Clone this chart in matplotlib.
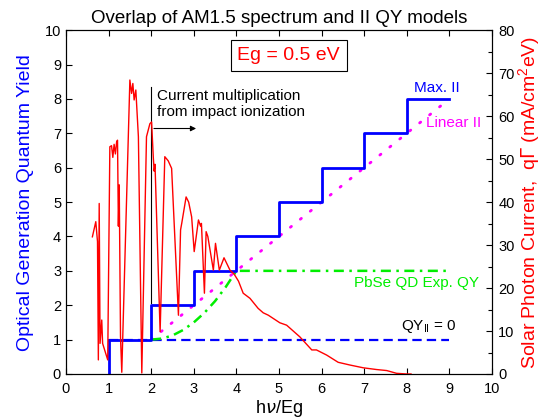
import numpy as np
import matplotlib
matplotlib.use("Agg")
import matplotlib.pyplot as plt

plt.rcParams["font.family"] = ["Liberation Sans", "DejaVu Sans"]

# -------------------------
# Data
# -------------------------

# AM1.5 solar photon current (mA/cm^2 eV) vs hv/Eg, Eg = 0.5 eV
spec_x = [0.62, 0.70, 0.74, 0.76, 0.78, 0.80, 0.84, 0.86, 0.98, 1.03,
          1.07, 1.10, 1.13, 1.16, 1.19, 1.21, 1.23, 1.25, 1.28, 1.31,
          1.50, 1.54, 1.57, 1.60, 1.64, 1.70, 1.78, 1.89, 1.97, 2.01,
          2.05, 2.07, 2.09, 2.21, 2.32, 2.40, 2.48, 2.64, 2.69, 2.72,
          2.82, 2.88, 2.95, 3.01, 3.11, 3.16, 3.18, 3.25, 3.29, 3.33,
          3.46, 3.51, 3.60, 3.71, 3.85, 3.95, 4.05, 4.16, 4.32, 4.51,
          4.63, 4.75, 5.02, 5.18, 5.49, 5.77, 5.88, 6.12, 6.39, 6.67,
          6.98, 7.29, 7.53, 7.76, 8.00, 8.10]
spec_qy_units = [3.99, 4.43, 3.85, 0.41, 4.96, 0.89, 1.57, 0.89, 0.41, 6.61,
                 6.64, 6.30, 6.68, 6.40, 6.76, 6.80, 4.30, 5.50, 1.10, 0.05,
                 8.55, 8.16, 8.45, 7.97, 8.26, 6.90, 0.03, 6.90, 7.28, 7.33,
                 6.30, 5.90, 6.10, 1.23, 6.32, 6.20, 5.98, 1.71, 4.19, 4.40,
                 5.15, 5.00, 4.57, 3.56, 4.48, 4.30, 4.38, 2.35, 4.14, 4.00,
                 3.02, 3.80, 3.02, 3.38, 3.02, 2.90, 2.70, 2.35, 2.20, 1.91,
                 1.78, 1.71, 1.49, 1.42, 1.08, 0.70, 0.70, 0.55, 0.34, 0.26,
                 0.18, 0.13, 0.10, 0.02, 0.00, 0.00]
spec_current = [v * 8 for v in spec_qy_units]

# QY models
max_x = [1, 2, 3, 4, 5, 6, 7, 8, 9]
max_qy = [1, 2, 3, 4, 5, 6, 7, 8, 8]

lin_x = [2, 9]
lin_qy = [1, 8]

pbse_x = [2.0, 2.25, 2.5, 2.75, 3.0, 3.25, 3.5, 3.75, 4.0, 9.0]
pbse_qy = [1.0, 1.03, 1.12, 1.28, 1.5, 1.78, 2.12, 2.53, 3.0, 3.0]

noii_x = [1, 9]
noii_qy = [1, 1]

# -------------------------
# Plot
# -------------------------

fig = plt.figure(figsize=(5.43, 4.19), dpi=100)
ax = fig.add_axes([0.1215, 0.1074, 0.7845, 0.8206])
ax2 = ax.twinx()

ax.plot([1, 1], [0, 1], color="#0000ff", lw=2)
ax.step(max_x, max_qy, where="post", color="#0000ff", lw=2, zorder=4)
ax.plot(noii_x, noii_qy, color="#0000ff", lw=1.6, dashes=(4.2, 2.3))
ax.plot(lin_x, lin_qy, color="#ff00ff", lw=2.0, linestyle=(0, (0.5, 4.1)),
        dash_capstyle="round")
ax.plot(pbse_x, pbse_qy, color="#00ee00", lw=1.8, dashes=(4, 2.2, 1, 2.2))

ax2.plot(spec_x, spec_current, color="#ff0000", lw=1)

# annotation: impact ionization threshold
ax.plot([2, 2], [2.06, 8.35], color="black", lw=0.8)
ax.annotate("", xy=(3.12, 7.14), xytext=(2.0, 7.14),
            arrowprops=dict(arrowstyle="-|>", color="black", lw=0.8,
                            mutation_scale=8))
ax.text(2.14, 7.85, "Current multiplication\nfrom impact ionization",
        fontsize=11, va="center", ha="left", linespacing=1.2)

ax.text(5.23, 9.27, "Eg = 0.5 eV", color="#ff0000", fontsize=14,
        ha="center", va="center",
        bbox=dict(boxstyle="square,pad=0.35", fc="white", ec="black", lw=0.8))

ax.text(8.71, 8.31, "Max. II", color="#0000ff", fontsize=11, ha="center", va="center")
ax.text(9.11, 7.3, "Linear II", color="#ff00ff", fontsize=11, ha="center", va="center")
ax.text(8.23, 2.65, "PbSe QD Exp. QY", color="#00ee00", fontsize=11, ha="center", va="center")
ax.text(8.52, 1.37, r"QY$_{\mathregular{II}}$ = 0", color="black", fontsize=11,
        ha="center", va="center")

ax.set_xlim(0, 10)
ax.set_ylim(0, 10)
ax2.set_ylim(0, 80)
ax.set_xticks(range(0, 11))
ax.set_yticks(range(0, 11))
ax2.set_yticks(range(0, 81, 10))
ax2.set_yticks(range(5, 80, 10), minor=True)

ax.tick_params(direction="in", top=True, labelsize=10.5, length=4, width=0.8)
ax.tick_params(axis="x", pad=6)
ax2.tick_params(direction="in", labelsize=10.5, length=4, width=0.8, pad=4.5)
ax2.tick_params(which="minor", direction="in", length=3, width=0.8)

ax.set_xlabel(r"h$\nu$/Eg", fontsize=13, labelpad=1)
ax.set_ylabel("Optical Generation Quantum Yield", color="#0000ff", fontsize=14,
              labelpad=8)
ax2.set_ylabel(r"Solar Photon Current,  q$\Gamma$ (mA/cm$^{\mathregular{2}}$eV)",
               color="#ff0000", fontsize=14, labelpad=1)
ax.set_title("Overlap of AM1.5 spectrum and II QY models", fontsize=13.5, pad=5)

for a in (ax, ax2):
    for s in a.spines.values():
        s.set_linewidth(0.8)

fig.savefig("out.png", dpi=100)
